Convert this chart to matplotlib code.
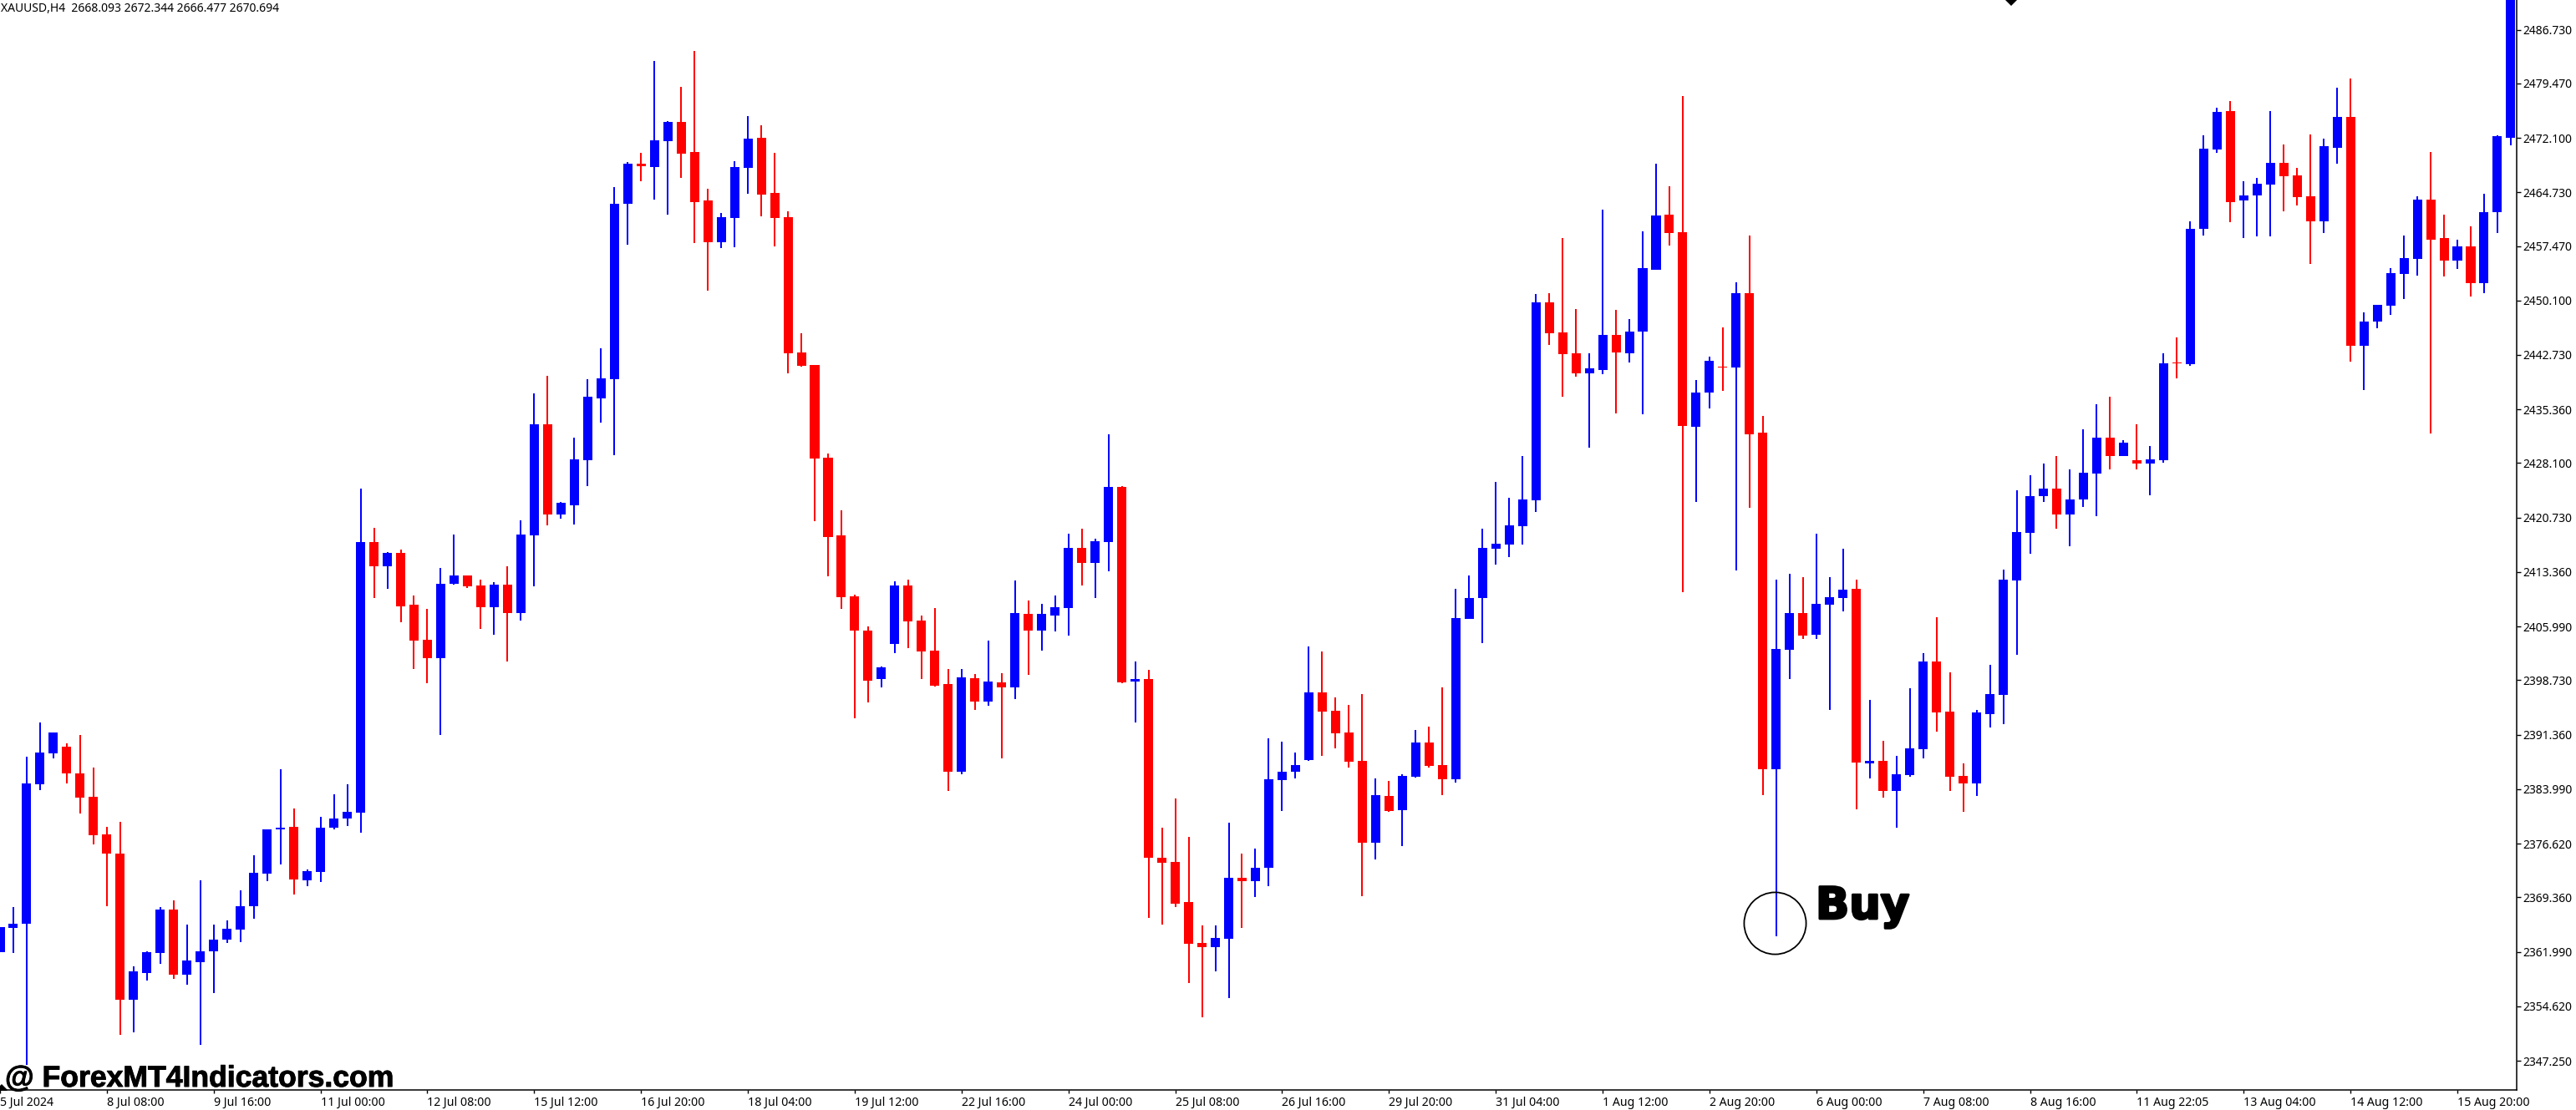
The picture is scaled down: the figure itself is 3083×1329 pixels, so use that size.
import matplotlib
matplotlib.use("Agg")
import matplotlib.pyplot as plt
import matplotlib.patheffects as pe

W, H = 3083, 1329

opens = [
    2361.9, 2365.2, 2365.8, 2384.7, 2388.8, 2389.7, 2386.1, 2383.0, 2377.9, 2375.3,
    2355.5, 2359.1, 2361.8, 2367.7, 2358.9, 2360.6, 2362.0, 2363.6, 2365.0, 2368.2,
    2372.6, 2378.5, 2378.9, 2371.7, 2372.8, 2378.8, 2380.0, 2380.8, 2417.4, 2414.2,
    2416.0, 2408.9, 2404.2, 2401.7, 2411.8, 2412.9, 2411.5, 2408.6, 2411.7, 2407.8,
    2418.3, 2433.4, 2421.2, 2422.4, 2428.5, 2436.9, 2439.4, 2463.2, 2468.6, 2468.2,
    2471.7, 2474.2, 2470.2, 2463.6, 2458.0, 2461.3, 2468.0, 2472.1, 2464.6, 2461.4,
    2443.1, 2441.4, 2428.8, 2418.3, 2410.1, 2405.5, 2398.9, 2403.6, 2411.6, 2406.8,
    2402.7, 2398.2, 2386.3, 2399.0, 2395.8, 2398.4, 2397.8, 2407.7, 2405.5, 2407.5,
    2408.5, 2416.6, 2414.6, 2417.4, 2424.9, 2398.5, 2398.9, 2374.7, 2374.2, 2368.7,
    2363.2, 2362.6, 2363.8, 2372.0, 2371.5, 2373.3, 2385.2, 2386.4, 2387.9, 2397.1,
    2394.6, 2391.7, 2387.8, 2376.8, 2383.1, 2381.2, 2385.7, 2390.3, 2387.2, 2385.3,
    2407.0, 2409.8, 2416.5, 2417.1, 2419.6, 2423.1, 2449.9, 2445.8, 2442.9, 2440.3,
    2440.7, 2445.4, 2443.0, 2445.9, 2454.3, 2461.7, 2459.3, 2433.0, 2437.6, 2441.1,
    2441.0, 2451.1, 2432.2, 2386.7, 2402.8, 2407.8, 2404.9, 2409.0, 2409.9, 2411.1,
    2387.5, 2387.8, 2383.7, 2385.9, 2389.4, 2401.3, 2394.5, 2385.8, 2384.8, 2394.2,
    2396.7, 2412.2, 2418.7, 2423.6, 2424.7, 2421.1, 2423.2, 2426.7, 2431.6, 2429.1,
    2428.5, 2428.0, 2428.5, 2441.7, 2441.5, 2459.8, 2470.5, 2475.7, 2463.6, 2464.3,
    2465.8, 2468.7, 2467.0, 2464.2, 2460.8, 2470.7, 2474.9, 2444.0, 2447.2, 2449.4,
    2453.7, 2455.7, 2463.7, 2458.6, 2455.5, 2457.4, 2452.5, 2462.0, 2472.1,
]
highs = [
    2365.3, 2368.1, 2388.4, 2393.0, 2391.7, 2390.2, 2391.3, 2386.9, 2378.9, 2379.6,
    2360.0, 2362.1, 2368.1, 2368.9, 2365.7, 2371.7, 2365.7, 2366.2, 2370.3, 2375.1,
    2378.5, 2386.7, 2381.4, 2373.1, 2380.3, 2383.3, 2384.7, 2424.7, 2419.3, 2416.1,
    2416.4, 2410.2, 2408.4, 2413.9, 2418.4, 2412.9, 2412.3, 2412.0, 2414.1, 2420.4,
    2437.5, 2439.9, 2422.9, 2431.6, 2439.4, 2443.6, 2465.4, 2468.8, 2470.1, 2482.5,
    2474.4, 2479.0, 2483.9, 2465.2, 2461.9, 2468.9, 2475.0, 2473.8, 2470.1, 2462.2,
    2445.7, 2441.4, 2429.4, 2421.7, 2410.3, 2406.0, 2400.6, 2412.1, 2412.3, 2407.5,
    2408.5, 2400.3, 2400.2, 2399.6, 2404.1, 2399.7, 2412.2, 2409.5, 2409.1, 2410.2,
    2418.5, 2419.2, 2417.9, 2432.0, 2425.0, 2401.3, 2400.1, 2378.8, 2382.7, 2377.5,
    2365.6, 2365.6, 2379.5, 2375.3, 2375.9, 2390.9, 2390.4, 2389.0, 2403.3, 2402.6,
    2396.4, 2395.4, 2396.9, 2385.4, 2385.1, 2386.0, 2392.0, 2392.5, 2397.8, 2411.1,
    2412.9, 2419.2, 2425.6, 2423.4, 2429.1, 2451.0, 2451.1, 2458.5, 2448.9, 2443.0,
    2462.4, 2448.8, 2447.6, 2459.4, 2468.6, 2465.5, 2477.8, 2439.3, 2442.5, 2446.5,
    2452.6, 2458.9, 2434.5, 2412.3, 2413.1, 2412.7, 2418.5, 2412.7, 2416.5, 2412.3,
    2396.1, 2390.5, 2388.5, 2397.7, 2402.4, 2407.2, 2399.8, 2387.5, 2394.7, 2400.8,
    2413.7, 2424.4, 2426.5, 2428.0, 2429.1, 2427.2, 2432.7, 2436.1, 2437.1, 2431.2,
    2433.4, 2430.4, 2443.0, 2445.1, 2460.8, 2472.4, 2476.2, 2477.1, 2466.2, 2466.7,
    2475.7, 2471.2, 2468.0, 2472.6, 2472.0, 2478.9, 2480.1, 2448.5, 2449.5, 2454.5,
    2458.9, 2464.2, 2470.2, 2461.7, 2458.3, 2460.1, 2464.5, 2472.5, 2500.0,
]
lows = [
    2361.9, 2361.8, 2346.7, 2383.9, 2388.2, 2384.8, 2380.7, 2376.5, 2368.2, 2350.8,
    2351.1, 2358.1, 2360.4, 2358.3, 2357.5, 2349.4, 2356.4, 2363.2, 2363.3, 2366.5,
    2371.5, 2373.8, 2369.7, 2370.9, 2371.4, 2378.5, 2379.0, 2378.1, 2409.9, 2411.1,
    2406.6, 2400.3, 2398.3, 2391.3, 2411.7, 2411.2, 2405.7, 2404.9, 2401.3, 2406.8,
    2411.4, 2419.7, 2420.6, 2419.8, 2425.0, 2433.6, 2429.2, 2457.7, 2466.2, 2463.7,
    2461.7, 2466.7, 2457.9, 2451.4, 2457.2, 2457.3, 2464.5, 2461.5, 2457.4, 2440.3,
    2441.2, 2420.3, 2412.8, 2408.4, 2393.6, 2395.7, 2397.8, 2402.4, 2403.1, 2398.9,
    2397.9, 2383.7, 2386.0, 2394.7, 2395.3, 2388.2, 2396.2, 2399.5, 2402.7, 2405.3,
    2404.8, 2411.6, 2409.8, 2413.5, 2398.3, 2393.0, 2366.6, 2365.7, 2368.0, 2357.8,
    2353.1, 2359.3, 2355.7, 2365.2, 2369.4, 2370.9, 2381.0, 2385.4, 2387.8, 2388.5,
    2389.5, 2386.9, 2369.5, 2374.5, 2380.9, 2376.3, 2385.6, 2386.9, 2383.2, 2384.9,
    2407.0, 2403.8, 2414.4, 2415.4, 2417.1, 2421.5, 2444.1, 2437.1, 2439.8, 2430.2,
    2440.1, 2434.8, 2441.7, 2434.7, 2454.2, 2457.5, 2410.6, 2422.9, 2435.5, 2437.9,
    2413.6, 2422.1, 2383.2, 2364.1, 2398.9, 2404.3, 2404.3, 2394.7, 2408.0, 2381.3,
    2385.4, 2382.8, 2378.8, 2385.7, 2388.2, 2391.8, 2383.8, 2380.9, 2383.1, 2392.3,
    2392.8, 2402.2, 2415.8, 2422.9, 2419.2, 2416.8, 2422.2, 2420.9, 2427.2, 2429.1,
    2427.3, 2423.7, 2428.1, 2439.6, 2441.3, 2458.9, 2470.1, 2460.7, 2458.5, 2458.8,
    2458.8, 2462.2, 2463.0, 2455.1, 2459.2, 2468.6, 2441.8, 2438.0, 2446.3, 2448.1,
    2450.3, 2453.5, 2432.1, 2453.3, 2454.4, 2450.6, 2451.1, 2459.2, 2471.1,
]
closes = [
    2365.3, 2365.8, 2384.8, 2388.9, 2391.7, 2386.1, 2382.9, 2377.8, 2375.3, 2355.5,
    2359.3, 2361.9, 2367.7, 2358.9, 2360.8, 2362.1, 2363.6, 2365.1, 2368.2, 2372.7,
    2378.5, 2378.8, 2371.8, 2372.9, 2378.8, 2380.0, 2380.9, 2417.4, 2414.1, 2416.0,
    2408.7, 2404.1, 2401.7, 2411.8, 2412.9, 2411.4, 2408.6, 2411.7, 2407.8, 2418.4,
    2433.4, 2421.1, 2422.7, 2428.6, 2437.1, 2439.6, 2463.2, 2468.6, 2468.3, 2471.8,
    2474.3, 2470.0, 2463.4, 2458.0, 2461.4, 2468.2, 2472.0, 2464.4, 2461.3, 2442.9,
    2441.3, 2428.7, 2418.1, 2410.0, 2405.4, 2398.7, 2400.5, 2411.6, 2406.7, 2402.6,
    2398.0, 2386.3, 2399.1, 2395.8, 2398.5, 2397.8, 2407.8, 2405.5, 2407.7, 2408.6,
    2416.6, 2414.6, 2417.5, 2424.9, 2398.4, 2398.9, 2374.7, 2374.0, 2368.5, 2363.1,
    2362.6, 2363.9, 2372.0, 2371.5, 2373.4, 2385.3, 2386.4, 2387.2, 2397.1, 2394.5,
    2391.6, 2387.7, 2376.8, 2383.2, 2381.0, 2385.8, 2390.3, 2387.1, 2385.3, 2407.1,
    2409.9, 2416.6, 2417.2, 2419.7, 2423.2, 2449.9, 2445.7, 2442.8, 2440.3, 2440.9,
    2445.4, 2443.1, 2445.9, 2454.5, 2461.6, 2459.2, 2433.1, 2437.6, 2441.9, 2441.0,
    2451.1, 2432.0, 2386.7, 2403.0, 2407.8, 2404.8, 2409.1, 2410.0, 2411.0, 2387.6,
    2387.8, 2383.8, 2386.0, 2389.5, 2401.3, 2394.4, 2385.7, 2384.8, 2394.4, 2396.9,
    2412.3, 2418.8, 2423.6, 2424.7, 2421.1, 2423.2, 2426.8, 2431.6, 2429.1, 2430.9,
    2428.0, 2428.6, 2441.6, 2441.6, 2459.8, 2470.6, 2475.6, 2463.4, 2464.3, 2465.9,
    2468.7, 2466.9, 2464.1, 2460.8, 2471.0, 2474.9, 2444.0, 2447.3, 2449.5, 2453.8,
    2455.8, 2463.7, 2458.3, 2455.5, 2457.4, 2452.4, 2462.0, 2472.3, 2498.0,
]

y_ticks = [2486.73, 2479.47, 2472.10, 2464.73, 2457.47, 2450.10, 2442.73, 2435.36, 2428.10, 2420.73,
           2413.36, 2405.99, 2398.73, 2391.36, 2383.99, 2376.62, 2369.36, 2361.99, 2354.62, 2347.25]

x_labels = ["5 Jul 2024", "8 Jul 08:00", "9 Jul 16:00", "11 Jul 00:00", "12 Jul 08:00", "15 Jul 12:00",
            "16 Jul 20:00", "18 Jul 04:00", "19 Jul 12:00", "22 Jul 16:00", "24 Jul 00:00", "25 Jul 08:00",
            "26 Jul 16:00", "29 Jul 20:00", "31 Jul 04:00", "1 Aug 12:00", "2 Aug 20:00", "6 Aug 00:00",
            "7 Aug 08:00", "8 Aug 16:00", "11 Aug 22:05", "13 Aug 04:00", "14 Aug 12:00", "15 Aug 20:00"]

# diamond objects cut off by the chart edges: bar position, price
diamond_x = [150.6, 0.1]
diamond_y = [2490.75, 2343.3]

header = "XAUUSD,H4  2668.093 2672.344 2666.477 2670.694"
BLUE = "#0000FF"
RED = "#FF0000"

fig = plt.figure(figsize=(W / 100, H / 100), dpi=100, facecolor="white")
ax = fig.add_axes([0, (H - 1305) / H, 3011.5 / W, 1305 / H])

x = list(range(len(opens)))
colors = [BLUE if c >= o else RED for o, c in zip(opens, closes)]
bottoms = [min(o, c) for o, c in zip(opens, closes)]
heights = [abs(c - o) for o, c in zip(opens, closes)]

ax.vlines(x, lows, highs, colors=colors, linewidth=1.35, antialiased=False, zorder=2)
ax.bar(x, heights, bottom=bottoms, width=0.69, color=colors, linewidth=0, antialiased=False, zorder=3)

# circle around the long wick marked as the entry
ax.plot([132.9], [2365.9], "o", ms=53.4, mfc="none", mec="black", mew=1.3, zorder=4)
ax.plot(diamond_x, diamond_y, "D", ms=7.1, color="black", mew=0, zorder=4)

ax.set_xlim(0.1875, 188.41)
ax.set_ylim(2343.3, 2490.75)

ax.spines["top"].set_visible(False)
ax.spines["left"].set_visible(False)
ax.spines["right"].set_linewidth(1.1)
ax.spines["bottom"].set_linewidth(1.1)

ax.yaxis.tick_right()
ax.set_yticks(y_ticks)
ax.set_yticklabels([f"{v:.3f}" for v in y_ticks], fontfamily="Noto Sans", fontsize=10)
ax.set_xticks(range(0, len(opens), 8))
ax.set_xticklabels(x_labels, fontfamily="Noto Sans", fontsize=10.2, ha="left")
ax.tick_params(axis="x", length=3, width=1.0, pad=2.5)
ax.tick_params(axis="y", length=3.5, width=1.0, pad=2.5)

fig.text(1 / W, 1 - 14 / H, header, fontfamily="Noto Sans", fontsize=10.05, color="black")
fig.text(6 / W, 1 - 1301 / H, "@ ForexMT4Indicators.com", fontfamily="Liberation Sans",
         fontweight="bold", fontsize=25.6, color="black", zorder=5,
         path_effects=[pe.withStroke(linewidth=0.7, foreground="black")])
fig.text(2173 / W, 1 - 1100 / H, "Buy", fontfamily="DejaVu Sans", fontweight="bold",
         fontsize=38, color="black", zorder=5,
         path_effects=[pe.withStroke(linewidth=2.0, foreground="black")])

fig.savefig("out.png", dpi=100, facecolor="white")
